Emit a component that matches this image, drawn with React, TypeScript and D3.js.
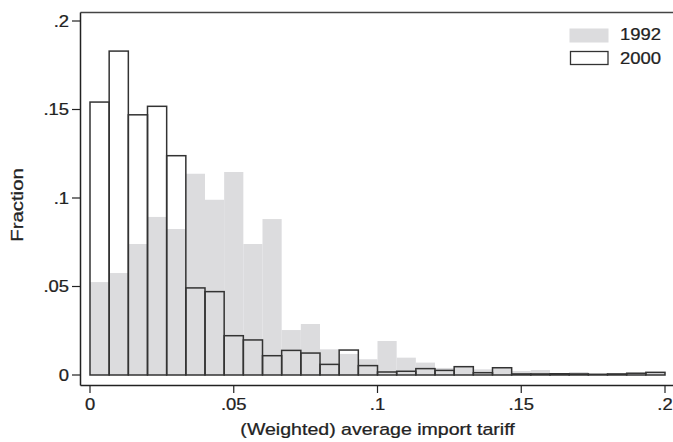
import React from "react";
import * as d3 from "d3";

// histogram bins: 30 bins of width 0.2/30 starting at 0
const binStarts = d3.range(30).map((i) => (i * 0.2) / 30);
const binWidth = 0.2 / 30;

const frac1992 = [
  0.0525, 0.0576, 0.074, 0.0893, 0.0825, 0.1137, 0.099, 0.1147, 0.074, 0.0881,
  0.0254, 0.0288, 0.0145, 0.0119, 0.0089, 0.0192, 0.0098, 0.007, 0.004, 0.0047,
  0.0032, 0.004, 0.0023, 0.0028, 0.0005, 0.0017, 0.0003, 0.001, 0.0008, 0.0013,
];
const frac2000 = [
  0.1542, 0.183, 0.147, 0.1518, 0.1239, 0.0492, 0.0471, 0.0222, 0.0198, 0.0109,
  0.0139, 0.0124, 0.006, 0.0141, 0.0053, 0.0017, 0.0021, 0.0036, 0.0026, 0.0047,
  0.0013, 0.0041, 0.0006, 0.0006, 0.0007, 0.0006, 0.0004, 0.0006, 0.001, 0.0015,
];

const yTicks = [0, 0.05, 0.1, 0.15, 0.2];
const xTicks = [0, 0.05, 0.1, 0.15, 0.2];
const tickLabels = ["0", ".05", ".1", ".15", ".2"];
const seriesNames = ["1992", "2000"];

const W = 673;
const H = 442;
const FONT = "'Liberation Sans', Arial, Helvetica, sans-serif";
const INK = "#222";
const GRAY = "#dcdcde";

function SText({ x, y, rot = 0, sx = 1.15, size = 16, anchor = "start", children }: any) {
  return (
    <g transform={`translate(${x},${y}) rotate(${rot}) scale(${sx},1)`}>
      <text
        fontSize={size}
        textAnchor={anchor}
        fill={INK}
        stroke={INK}
        strokeWidth={0.25}
        fontFamily={FONT}
      >
        {children}
      </text>
    </g>
  );
}

export default function App() {
  const x = d3.scaleLinear().domain([0, 0.2]).range([90, 665]);
  const y = d3.scaleLinear().domain([0, 0.2]).range([375, 21]);

  const axisLeft = 80.5;
  const axisBottom = 385.5;
  const plotTop = 12.5;

  return (
    <svg
      width={W}
      height={H}
      style={{ position: "absolute", left: 0, top: 0, display: "block", background: "#fff" }}
    >
      {/* 1992 gray bars */}
      {binStarts.map((b, i) => (
        <rect
          key={"g" + i}
          x={x(b)}
          y={y(frac1992[i])}
          width={x(b + binWidth) - x(b)}
          height={y(0) - y(frac1992[i])}
          fill={GRAY}
        />
      ))}
      {/* 2000 outline bars */}
      {binStarts.map((b, i) => (
        <rect
          key={"o" + i}
          x={x(b)}
          y={y(frac2000[i])}
          width={x(b + binWidth) - x(b)}
          height={y(0) - y(frac2000[i])}
          fill="none"
          stroke="#333"
          strokeWidth={1.5}
        />
      ))}

      {/* plot frame / axes */}
      <line x1={axisLeft} x2={W} y1={plotTop} y2={plotTop} stroke="#444" strokeWidth={1.3} />
      <line x1={axisLeft} x2={axisLeft} y1={plotTop} y2={axisBottom} stroke={INK} strokeWidth={1.5} />
      <line x1={axisLeft} x2={W} y1={axisBottom} y2={axisBottom} stroke={INK} strokeWidth={1.5} />

      {/* y ticks */}
      {yTicks.map((t, i) => (
        <g key={"yt" + i}>
          <line x1={72} x2={axisLeft} y1={y(t)} y2={y(t)} stroke={INK} strokeWidth={1.2} />
          <SText x={69} y={y(t) + 5.5} anchor="end">
            {tickLabels[i]}
          </SText>
        </g>
      ))}

      {/* x ticks */}
      {xTicks.map((t, i) => (
        <g key={"xt" + i}>
          <line x1={x(t)} x2={x(t)} y1={axisBottom} y2={393} stroke={INK} strokeWidth={1.2} />
          <SText x={x(t)} y={409.5} anchor="middle">
            {tickLabels[i]}
          </SText>
        </g>
      ))}

      {/* axis titles */}
      <SText x={(x(0) + x(0.2)) / 2} y={434.5} anchor="middle" size={16.3} sx={1.2}>
        (Weighted) average import tariff
      </SText>
      <SText x={22.5} y={205} rot={-90} anchor="middle" size={17} sx={1.2}>
        Fraction
      </SText>

      {/* legend */}
      <rect x={569.5} y={28.5} width={39} height={14} fill={GRAY} />
      <SText x={620} y={39.5} size={16.5} sx={1.12}>
        {seriesNames[0]}
      </SText>
      <rect x={570.5} y={51.5} width={37.5} height={13} fill="none" stroke="#333" strokeWidth={1.3} />
      <SText x={620} y={64} size={16.5} sx={1.12}>
        {seriesNames[1]}
      </SText>
    </svg>
  );
}
